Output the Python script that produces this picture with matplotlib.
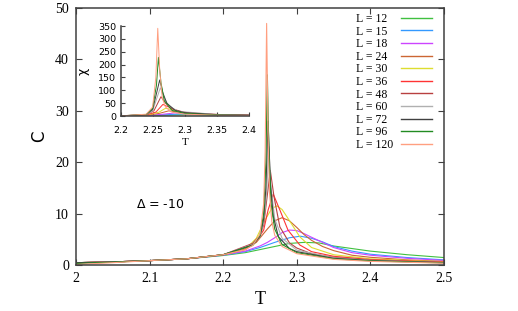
import numpy as np
import matplotlib
matplotlib.use('Agg')
import matplotlib.pyplot as plt

# sizes and colours, same order as the legend
sizes = [12, 15, 18, 24, 30, 36, 48, 60, 72, 96, 120]
colors = ['#40c040', '#3399ff', '#cc44ff', '#cc6633', '#dddd30', '#ff3333',
          '#b84040', '#b0b0b0', '#404040', '#228b22', '#ff9f80']

# specific heat C(T)
T12 = [2.0, 2.05, 2.1, 2.15, 2.2, 2.23, 2.25, 2.27, 2.29, 2.31, 2.33, 2.35, 2.4, 2.45, 2.5]
C12 = [0.45, 0.6, 0.85, 1.2, 1.85, 2.4, 3.0, 3.6, 4.2, 4.4, 4.3, 3.7, 2.7, 2.0, 1.45]
T15 = [2.0, 2.05, 2.1, 2.15, 2.2, 2.23, 2.25, 2.27, 2.29, 2.305, 2.32, 2.335, 2.35, 2.375, 2.4, 2.45, 2.5]
C15 = [0.45, 0.6, 0.85, 1.2, 1.9, 2.6, 3.4, 4.4, 5.3, 5.6, 5.2, 4.5, 3.6, 2.7, 2.1, 1.45, 1.0]
T18 = [2.0, 2.05, 2.1, 2.15, 2.2, 2.23, 2.25, 2.26, 2.27, 2.28, 2.29, 2.3, 2.31, 2.32, 2.335, 2.35, 2.375, 2.4, 2.45, 2.5]
C18 = [0.45, 0.6, 0.85, 1.2, 1.95, 2.7, 3.7, 4.4, 5.3, 6.3, 6.8, 6.7, 6.1, 5.4, 4.4, 3.4, 2.4, 1.9, 1.3, 0.9]
T24 = [2.0, 2.05, 2.1, 2.15, 2.2, 2.23, 2.245, 2.26, 2.27, 2.28, 2.29, 2.3, 2.31, 2.32, 2.335, 2.35, 2.375, 2.4, 2.45, 2.5]
C24 = [0.45, 0.6, 0.85, 1.2, 2.0, 3.0, 4.4, 7.0, 8.6, 9.2, 8.6, 7.3, 5.9, 4.8, 3.6, 2.8, 1.9, 1.5, 1.0, 0.7]
T30 = [2.0, 2.05, 2.1, 2.15, 2.2, 2.23, 2.245, 2.257, 2.266, 2.273, 2.28, 2.287, 2.304, 2.32, 2.35, 2.4, 2.5]
C30 = [0.45, 0.6, 0.85, 1.2, 2.0, 3.0, 5.2, 8.8, 11.0, 11.5, 10.8, 9.3, 5.5, 3.4, 2.0, 1.2, 0.6]
T36 = [2.0, 2.05, 2.1, 2.15, 2.2, 2.23, 2.245, 2.255, 2.261, 2.268, 2.277, 2.288, 2.304, 2.32, 2.35, 2.4, 2.5]
C36 = [0.45, 0.6, 0.85, 1.2, 2.0, 3.1, 4.6, 6.8, 10.7, 13.8, 10.7, 6.8, 3.9, 2.6, 1.7, 1.05, 0.55]
T48 = [2.0, 2.05, 2.1, 2.15, 2.2, 2.24, 2.25, 2.255, 2.259, 2.264, 2.269, 2.277, 2.29, 2.3, 2.32, 2.35, 2.4, 2.5]
C48 = [0.45, 0.6, 0.85, 1.2, 2.0, 4.2, 5.8, 7.8, 12.5, 18.4, 13.3, 7.4, 4.3, 3.3, 2.2, 1.5, 0.95, 0.5]
T60 = [2.0, 2.05, 2.1, 2.15, 2.2, 2.24, 2.25, 2.255, 2.259, 2.262, 2.265, 2.27, 2.28, 2.3, 2.35, 2.4, 2.5]
C60 = [0.45, 0.6, 0.85, 1.2, 2.0, 4.0, 5.5, 8.3, 14.0, 23.0, 15.0, 9.0, 5.2, 2.9, 1.4, 0.9, 0.45]
T72 = [2.0, 2.05, 2.1, 2.15, 2.2, 2.24, 2.25, 2.255, 2.258, 2.261, 2.264, 2.268, 2.275, 2.29, 2.3, 2.35, 2.4, 2.5]
C72 = [0.45, 0.6, 0.85, 1.2, 2.0, 3.9, 5.6, 9.0, 15.0, 28.0, 16.0, 9.5, 5.5, 3.2, 2.6, 1.3, 0.85, 0.45]
T96 = [2.0, 2.05, 2.1, 2.15, 2.2, 2.24, 2.25, 2.255, 2.258, 2.26, 2.262, 2.265, 2.27, 2.28, 2.3, 2.35, 2.4, 2.5]
C96 = [0.3, 0.55, 0.85, 1.2, 2.0, 3.8, 5.8, 10.0, 20.0, 37.0, 22.0, 12.0, 7.0, 4.0, 2.4, 1.2, 0.8, 0.4]
T120 = [2.0, 2.05, 2.1, 2.15, 2.2, 2.23, 2.24, 2.25, 2.255, 2.257, 2.259, 2.261, 2.263, 2.266, 2.27, 2.28, 2.3, 2.35, 2.4, 2.5]
C120 = [0.1, 0.45, 0.85, 1.2, 2.0, 3.0, 3.8, 6.0, 12.0, 22.0, 47.0, 25.0, 14.0, 8.5, 5.8, 3.6, 2.2, 1.1, 0.7, 0.35]

# susceptibility chi(T)
X12 = [2.2, 2.25, 2.28, 2.3, 2.32, 2.35, 2.4]
chi12 = [0.5, 2, 4, 5, 4.5, 3.5, 2.5]
X15 = [2.2, 2.25, 2.28, 2.295, 2.31, 2.35, 2.4]
chi15 = [0.5, 2.5, 6, 8, 7, 4, 2.5]
X18 = [2.2, 2.25, 2.27, 2.285, 2.3, 2.33, 2.4]
chi18 = [0.5, 3, 8, 12, 10, 6, 2.5]
X24 = [2.2, 2.24, 2.26, 2.275, 2.29, 2.32, 2.4]
chi24 = [0.5, 3, 10, 20, 15, 7, 2.5]
X30 = [2.2, 2.24, 2.26, 2.27, 2.28, 2.3, 2.35, 2.4]
chi30 = [0.5, 3, 15, 30, 25, 12, 5, 2.5]
X36 = [2.2, 2.24, 2.255, 2.266, 2.275, 2.29, 2.32, 2.4]
chi36 = [0.5, 4, 15, 45, 35, 18, 8, 3]
X48 = [2.2, 2.24, 2.252, 2.263, 2.27, 2.28, 2.3, 2.35, 2.4]
chi48 = [0.5, 5, 20, 75, 50, 28, 14, 6, 3]
X60 = [2.2, 2.24, 2.25, 2.262, 2.268, 2.275, 2.29, 2.35, 2.4]
chi60 = [0.5, 5, 20, 110, 70, 40, 18, 6, 3]
X72 = [2.2, 2.24, 2.25, 2.261, 2.266, 2.272, 2.285, 2.3, 2.35, 2.4]
chi72 = [0.5, 6, 25, 140, 90, 50, 22, 13, 5, 3]
X96 = [2.2, 2.24, 2.25, 2.256, 2.259, 2.263, 2.268, 2.28, 2.3, 2.35, 2.4]
chi96 = [0.5, 6, 30, 120, 228, 130, 60, 22, 10, 4, 2]
X120 = [2.2, 2.24, 2.25, 2.255, 2.258, 2.261, 2.265, 2.27, 2.28, 2.3, 2.35, 2.4]
chi120 = [0.5, 7, 35, 150, 341, 180, 70, 35, 15, 7, 3, 2]

T_main = [T12, T15, T18, T24, T30, T36, T48, T60, T72, T96, T120]
C_main = [C12, C15, C18, C24, C30, C36, C48, C60, C72, C96, C120]
T_ins = [X12, X15, X18, X24, X30, X36, X48, X60, X72, X96, X120]
chi_ins = [chi12, chi15, chi18, chi24, chi30, chi36, chi48, chi60, chi72, chi96, chi120]

W, H = 518, 311
fig = plt.figure(figsize=(W / 100, H / 100), dpi=100)
serif = 'Liberation Serif'
spine_c = '#404040'

# main plot
ax = fig.add_axes([76 / W, 1 - 265 / H, 368 / W, 257 / H])
for T, C, L, c in zip(T_main, C_main, sizes, colors):
    ax.plot(T, C, color=c, lw=0.8, label='L = %d' % L)
ax.set_xlim(2.0, 2.5)
ax.set_ylim(0, 50)
ax.set_xticks(np.arange(2.0, 2.51, 0.1))
ax.set_xticklabels(['2', '2.1', '2.2', '2.3', '2.4', '2.5'], family=serif, fontsize=10)
ax.set_yticks(range(0, 51, 10))
ax.set_yticklabels([str(v) for v in range(0, 51, 10)], family=serif, fontsize=10)
ax.tick_params(direction='in', length=4, width=0.8, color=spine_c,
               top=True, right=True, pad=5)
for s in ax.spines.values():
    s.set_color(spine_c)
    s.set_linewidth(1.1)
ax.set_xlabel('T', family=serif, fontsize=13, labelpad=4)
ax.set_ylabel('C', fontsize=12, labelpad=5)
ax.text(2.081, 11.7, r'$\Delta$ = -10', fontsize=9, va='center', ha='left')

# legend, text on the left and line on the right
labels = ['L = %d\u2007' % L if L < 100 else 'L = %d' % L for L in sizes]
handles = ax.get_lines()
leg = ax.legend(handles, labels, loc='upper right', markerfirst=False, frameon=False,
                bbox_to_anchor=(432 / W, 1 - 13 / H), bbox_transform=fig.transFigure,
                borderaxespad=0, borderpad=0, handlelength=2.6, handletextpad=0.7,
                labelspacing=0.05, prop={'family': serif, 'size': 8.5})
for line in leg.get_lines():
    line.set_linewidth(1.0)

# inset with chi
ins = fig.add_axes([120.5 / W, 1 - 116 / H, 128.5 / W, 90 / H])
for T, X, c in zip(T_ins, chi_ins, colors):
    ins.plot(T, X, color=c, lw=0.7)
ins.set_xlim(2.2, 2.4)
ins.set_ylim(0, 350)
ins.set_xticks([2.2, 2.25, 2.3, 2.35, 2.4])
ins.set_xticklabels(['2.2', '2.25', '2.3', '2.35', '2.4'], fontsize=6.8)
ins.set_yticks(range(0, 351, 50))
ins.set_yticklabels([str(v) for v in range(0, 351, 50)], fontsize=6.8)
ins.tick_params(direction='in', length=3, width=0.8, color=spine_c, pad=3)
ins.tick_params(axis='x', pad=7)
ins.spines['top'].set_visible(False)
ins.spines['right'].set_visible(False)
for k in ['left', 'bottom']:
    ins.spines[k].set_color(spine_c)
    ins.spines[k].set_linewidth(1.1)
ins.patch.set_alpha(0)
ins.set_xlabel('T', family=serif, fontsize=8, labelpad=2)
ins.set_ylabel('\u03c7', fontsize=9, labelpad=6)

fig.savefig('out.png', dpi=100)
